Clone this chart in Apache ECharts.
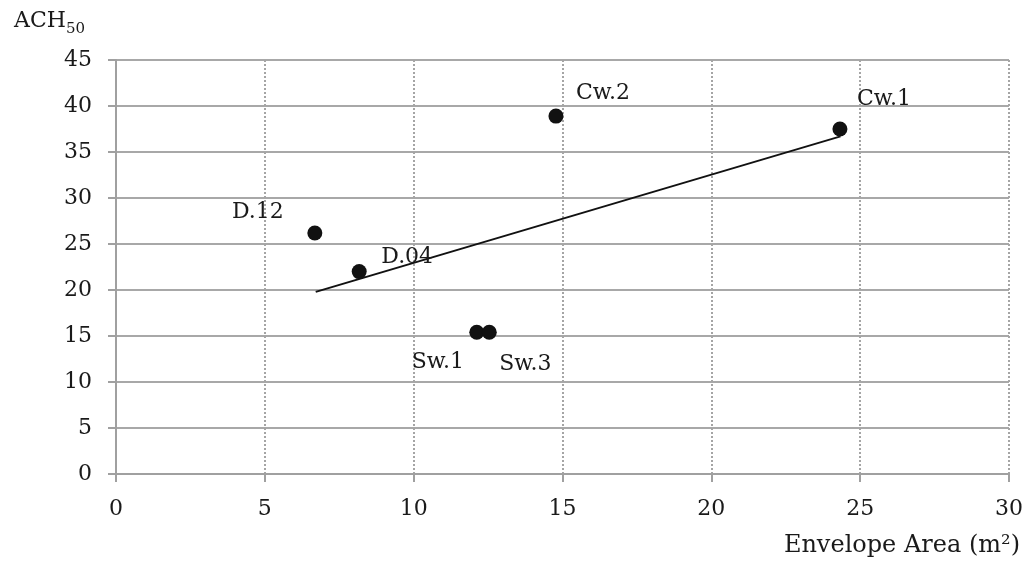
<!DOCTYPE html>
<html>
<head>
<meta charset="utf-8">
<script src="https://cdn.jsdelivr.net/npm/echarts@6/dist/echarts.min.js"></script>
<style>
  html, body { margin: 0; padding: 0; background: #fff; }
  #chart { width: 1035px; height: 569px; }
</style>
</head>
<body>
<div id="chart"></div>
<script>
// 数据
var pointNames = ['D.12', 'D.04', 'Sw.1', 'Sw.3', 'Cw.2', 'Cw.1'];
var envelopeArea = [6.68, 8.17, 12.12, 12.54, 14.78, 24.32];
var ach50 = [26.2, 22.0, 15.4, 15.4, 38.9, 37.5];
// 趋势线两端
var trendX = [6.71, 24.34];
var trendY = [19.8, 36.7];

// 标签偏移（像素）
var labelOffsets = [[-57, -21], [48, -14], [-39, 30], [36, 32], [47, -23], [44, -30]];

var font = 'DejaVu Serif';
var textColor = '#1a1a1a';

var points = pointNames.map(function (n, i) {
  return {
    name: n,
    value: [envelopeArea[i], ach50[i]],
    label: { offset: labelOffsets[i] }
  };
});
var trend = trendX.map(function (x, i) { return [x, trendY[i]]; });

var myChart = echarts.init(document.getElementById('chart'));
var option = {
  animation: false,
  title: {
    text: '{a|ACH}{s|50}',
    left: 9,
    top: 0,
    textStyle: {
      fontWeight: 'normal',
      rich: {
        a: { fontFamily: font, fontSize: 22, color: textColor },
        s: { fontFamily: font, fontSize: 15, color: textColor, padding: [17, 0, 0, 0] }
      }
    }
  },
  grid: { left: 116, right: 26, top: 60, bottom: 95 },
  xAxis: {
    type: 'value',
    min: 0, max: 30, interval: 5,
    name: 'Envelope Area (m²)',
    nameLocation: 'end',
    nameGap: 11,
    nameTextStyle: {
      fontFamily: font, fontSize: 24, color: textColor,
      align: 'right', verticalAlign: 'top', padding: [60, 0, 0, 0]
    },
    axisLine: { show: true, lineStyle: { color: '#a0a0a0', width: 2 } },
    axisTick: { show: true, length: 8, lineStyle: { color: '#a0a0a0', width: 2 } },
    axisLabel: { margin: 24, fontFamily: font, fontSize: 22, color: textColor },
    splitLine: { show: true, lineStyle: { color: '#a5a5a5', type: [2, 2], width: 2 } }
  },
  yAxis: {
    type: 'value',
    min: 0, max: 45, interval: 5,
    axisLine: { show: true, lineStyle: { color: '#a0a0a0', width: 2 } },
    axisTick: { show: true, length: 8, lineStyle: { color: '#a0a0a0', width: 2 } },
    axisLabel: { margin: 24, fontFamily: font, fontSize: 22, color: textColor },
    splitLine: { show: true, lineStyle: { color: '#a8a8a8', width: 2 } }
  },
  series: [
    {
      name: 'trend',
      type: 'line',
      data: trend,
      symbol: 'none',
      lineStyle: { color: '#111', width: 2 },
      z: 3
    },
    {
      name: 'ACH50',
      type: 'scatter',
      data: points,
      symbolSize: 15,
      itemStyle: { color: '#111', opacity: 1 },
      label: {
        show: true,
        position: 'inside',
        formatter: '{b}',
        fontFamily: font,
        fontSize: 22,
        color: textColor
      },
      z: 4
    }
  ]
};
myChart.setOption(option);
</script>
</body>
</html>
